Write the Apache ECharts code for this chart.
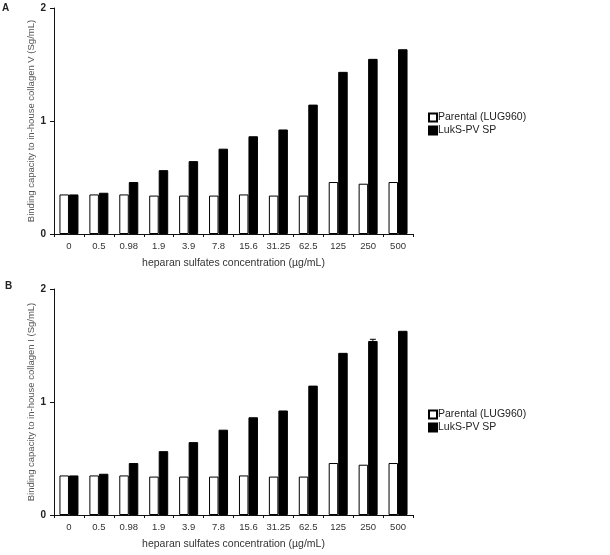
<!DOCTYPE html>
<html>
<head>
<meta charset="utf-8">
<script src="https://cdn.jsdelivr.net/npm/echarts@6/dist/echarts.min.js"></script>
<style>
  html, body { margin: 0; padding: 0; background: #fff; }
  #chart { width: 610px; height: 555px; }
</style>
</head>
<body>
<div id="chart"></div>
<script>
const concentrations = ["0", "0.5", "0.98", "1.9", "3.9", "7.8", "15.6", "31.25", "62.5", "125", "250", "500"];
const parentalV = [0.35, 0.35, 0.35, 0.34, 0.34, 0.34, 0.35, 0.34, 0.34, 0.46, 0.445, 0.46];
const luksV = [0.35, 0.365, 0.46, 0.565, 0.645, 0.755, 0.865, 0.925, 1.145, 1.435, 1.55, 1.635];
const parentalI = [0.35, 0.35, 0.35, 0.34, 0.34, 0.34, 0.35, 0.34, 0.34, 0.46, 0.445, 0.46];
const luksI = [0.35, 0.365, 0.46, 0.565, 0.645, 0.755, 0.865, 0.925, 1.145, 1.435, 1.54, 1.63];
const luksIError = [0, 0, 0, 0, 0, 0, 0, 0, 0, 0, 0.015, 0];
const yTicks = [0, 1, 2];

const font = "Liberation Sans, Arial, sans-serif";
const chart = echarts.init(document.getElementById("chart"));

function xAxis(gridIndex) {
  return {
    type: "category",
    gridIndex,
    data: concentrations,
    axisLine: { lineStyle: { color: "#111", width: 1 } },
    axisTick: { show: true, length: 3, lineStyle: { color: "#111" } },
    axisLabel: { color: "#333", fontSize: 9.5, fontFamily: font, margin: 7, interval: 0, hideOverlap: false },
    name: "heparan sulfates concentration (µg/mL)",
    nameLocation: "middle",
    nameGap: 24,
    nameMoveOverlap: false,
    nameTextStyle: { color: "#333", fontSize: 10.5, fontFamily: font }
  };
}

function yAxis(gridIndex, name) {
  return {
    type: "value",
    gridIndex,
    min: yTicks[0],
    max: yTicks[yTicks.length - 1],
    interval: 1,
    axisLine: { show: true, lineStyle: { color: "#111", width: 1 } },
    axisTick: { show: true, length: 4, lineStyle: { color: "#111" } },
    splitLine: { show: false },
    axisLabel: { color: "#222", fontSize: 10, fontWeight: "bold", fontFamily: font, margin: 8 },
    name,
    nameLocation: "middle",
    nameGap: 18,
    nameMoveOverlap: false,
    nameTextStyle: { color: "#555", fontSize: 9.5, fontFamily: font }
  };
}

function bars(name, data, idx, color) {
  return {
    name,
    type: "bar",
    xAxisIndex: idx,
    yAxisIndex: idx,
    data,
    barWidth: 9.5,
    barGap: "0%",
    itemStyle: { color, borderColor: "#000", borderWidth: 1 },
    emphasis: { disabled: true }
  };
}

// error caps drawn over the black (second) bar of each group
function errors(values, errs, idx) {
  return {
    type: "custom",
    xAxisIndex: idx,
    yAxisIndex: idx,
    silent: true,
    data: values.map((v, i) => [i, v, errs[i]]),
    renderItem: (params, api) => {
      const e = api.value(2);
      if (!e) return null;
      const top = api.coord([api.value(0), api.value(1) + e]);
      const base = api.coord([api.value(0), api.value(1)]);
      const x = top[0] + 4.75;
      return {
        type: "group",
        children: [
          { type: "line", shape: { x1: x, y1: base[1], x2: x, y2: top[1] }, style: { stroke: "#000", lineWidth: 1 } },
          { type: "line", shape: { x1: x - 3, y1: top[1], x2: x + 3, y2: top[1] }, style: { stroke: "#000", lineWidth: 1 } }
        ]
      };
    }
  };
}

function legend(top) {
  return {
    orient: "vertical",
    left: 423,
    top,
    itemWidth: 8,
    itemHeight: 8,
    itemGap: 2,
    icon: "rect",
    data: ["Parental (LUG960)", "LukS-PV SP"],
    textStyle: { color: "#222", fontSize: 10.5, fontFamily: font, padding: [0, 0, 0, -4] }
  };
}

chart.setOption({
  animation: false,
  textStyle: { fontFamily: font },
  title: [
    { text: "A", left: -3, top: -2, textStyle: { fontSize: 10, fontWeight: "bold", color: "#222" } },
    { text: "B", left: 0, top: 276, textStyle: { fontSize: 10, fontWeight: "bold", color: "#222" } }
  ],
  grid: [
    { left: 54, top: 8, width: 359, height: 226 },
    { left: 54, top: 289, width: 359, height: 226 }
  ],
  legend: [legend(107), legend(404)],
  xAxis: [xAxis(0), xAxis(1)],
  yAxis: [
    yAxis(0, "Binding capacity to in-house collagen V (Sg/mL)"),
    yAxis(1, "Binding capacity to in-house collagen I (Sg/mL)")
  ],
  series: [
    bars("Parental (LUG960)", parentalV, 0, "#fff"),
    bars("LukS-PV SP", luksV, 0, "#000"),
    bars("Parental (LUG960)", parentalI, 1, "#fff"),
    bars("LukS-PV SP", luksI, 1, "#000"),
    errors(luksI, luksIError, 1)
  ]
});
</script>
</body>
</html>
